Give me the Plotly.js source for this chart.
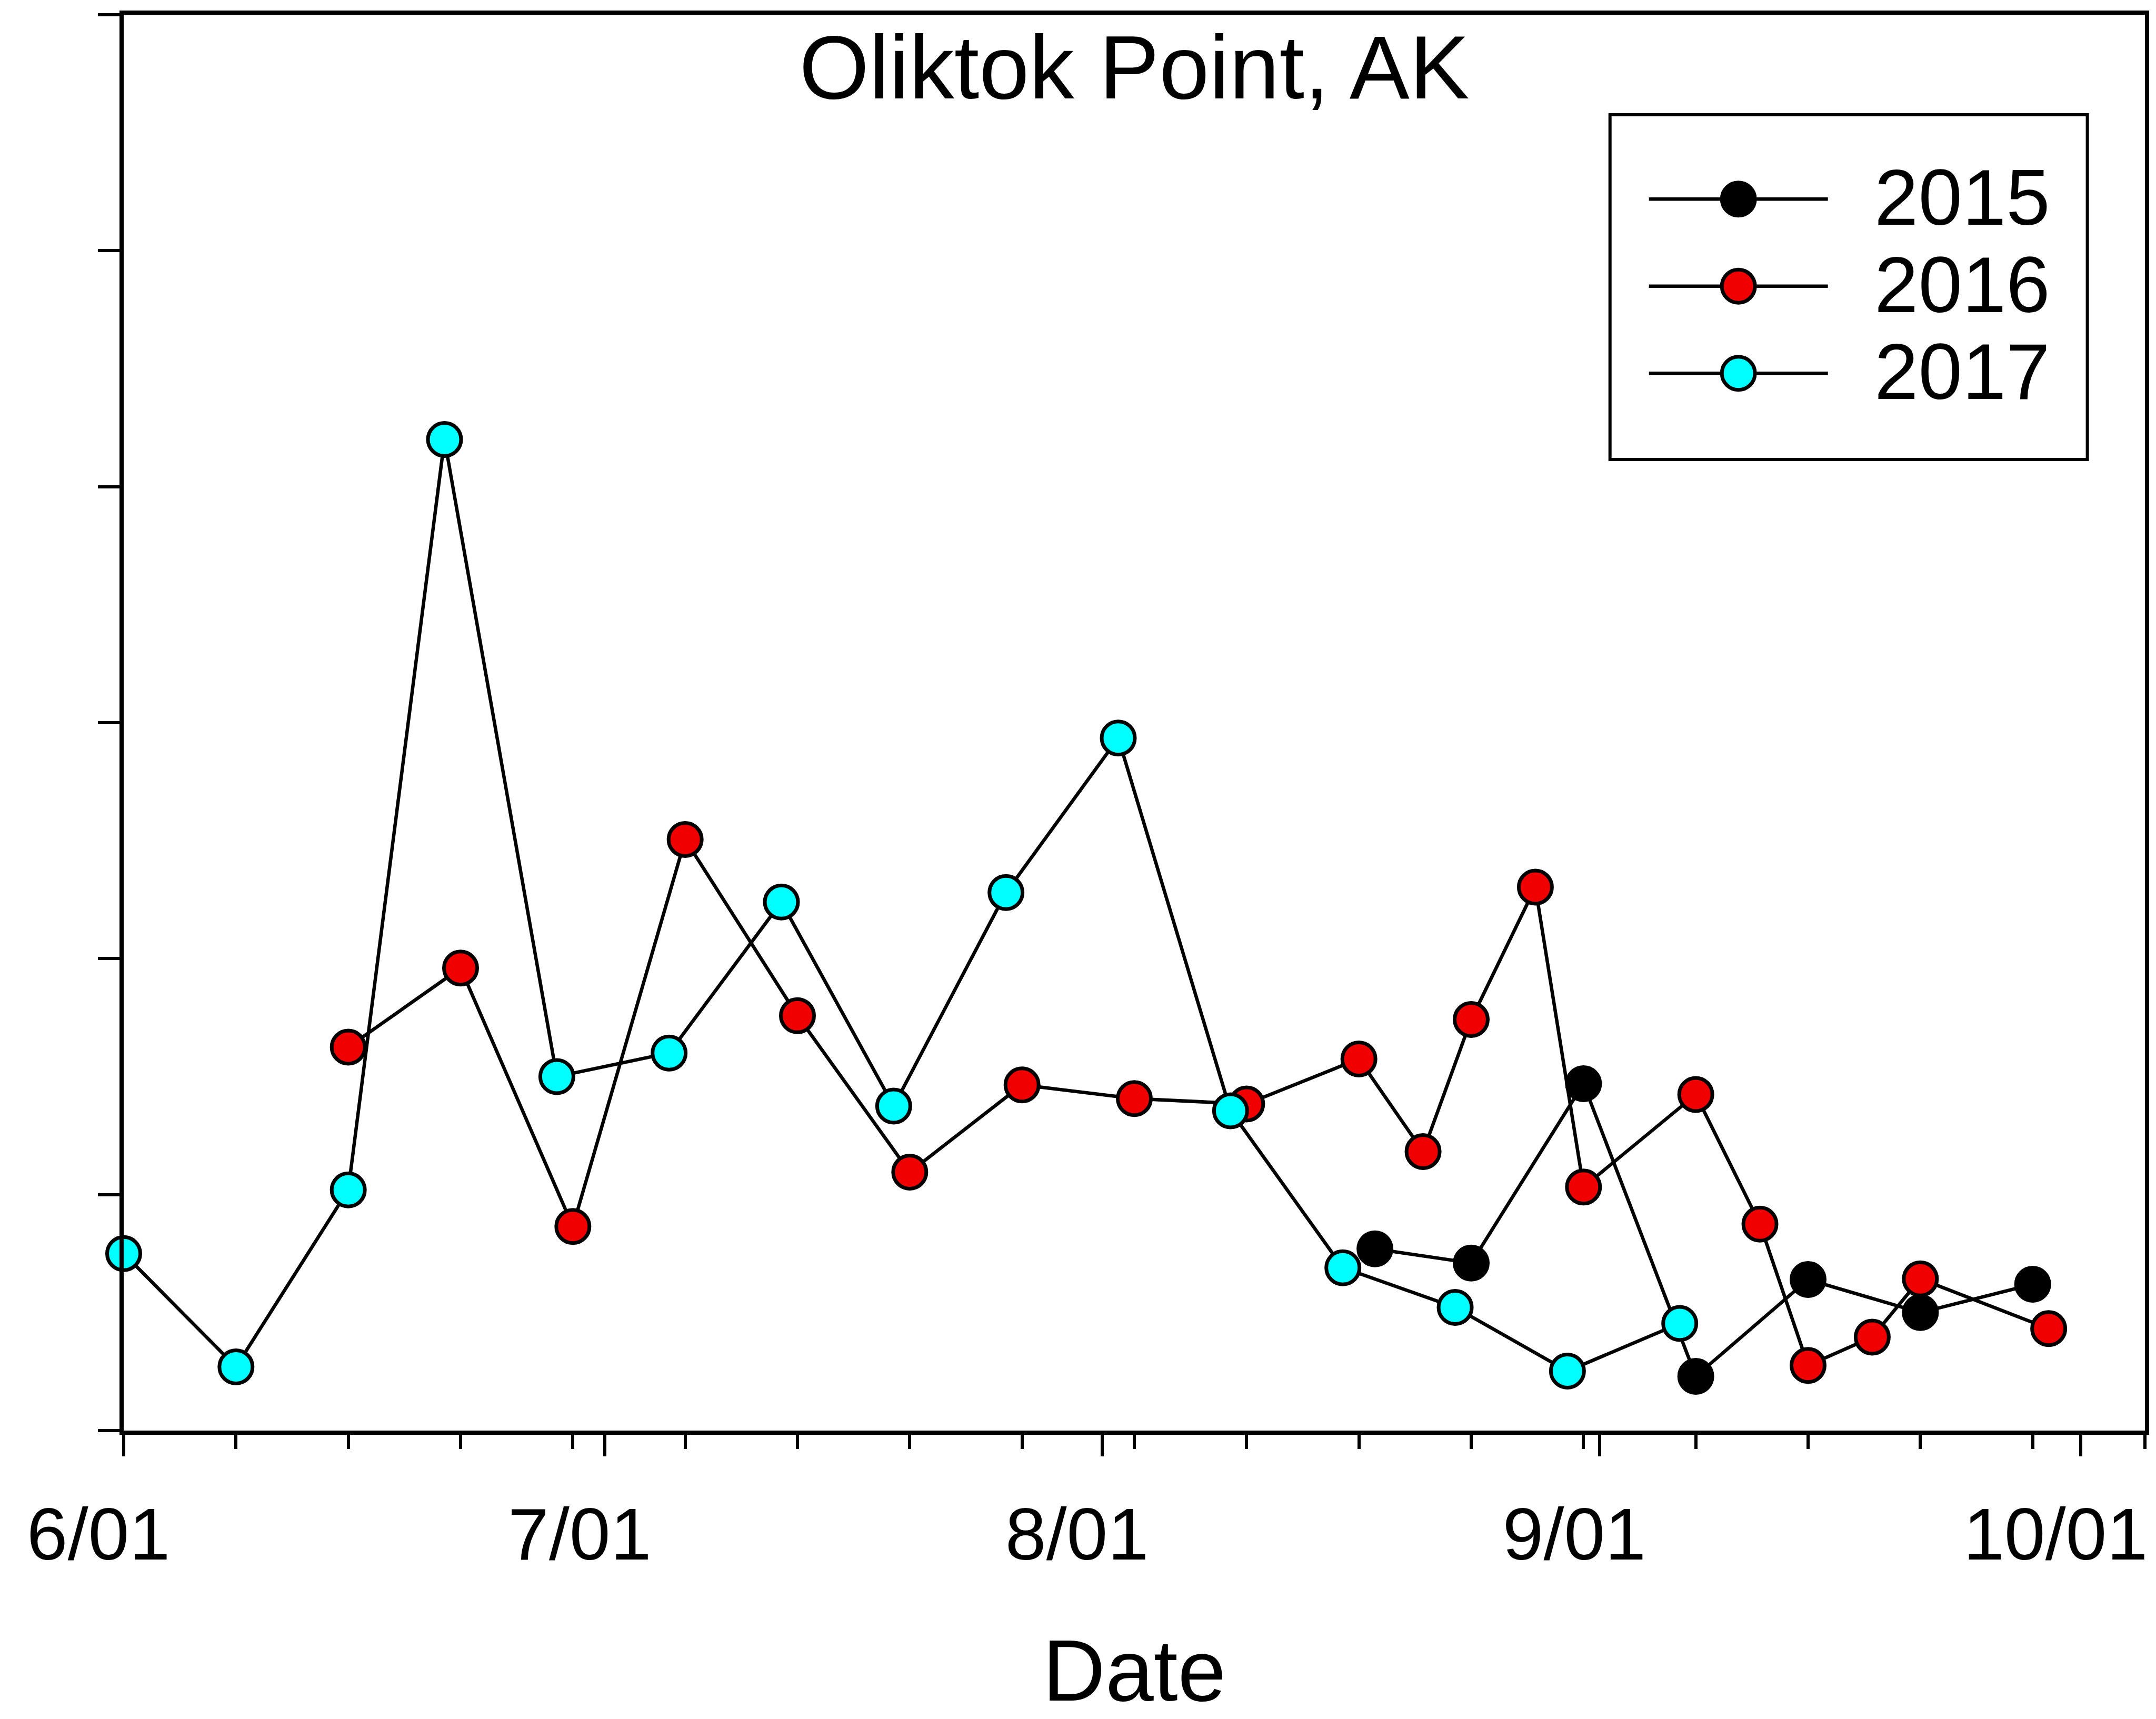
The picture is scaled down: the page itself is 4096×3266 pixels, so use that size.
<!DOCTYPE html>
<html>
<head>
<meta charset="utf-8">
<script src="https://cdn.plot.ly/plotly-3.0.1.min.js"></script>
<style>
  html, body { margin: 0; padding: 0; background: #ffffff; overflow: hidden; }
  #chart { width: 4096px; height: 3266px; }
</style>
</head>
<body>
<div id="chart"></div>
<script>
// ---- data (month-day, value in plot units 0..6) ----
const seriesNames = ['2015', '2016', '2017'];
const seriesColors = ['#000000', '#f00000', '#00ffff'];

const dates2015 = ['08-18','08-24','08-31','09-07','09-14','09-21','09-28'];
const vals2015  = [0.77, 0.71, 1.47, 0.23, 0.64, 0.50, 0.62];

const dates2016 = ['06-15','06-22','06-29','07-06','07-13','07-20','07-27','08-03','08-10','08-17',
                   '08-21','08-24','08-28','08-31','09-07','09-11','09-14','09-18','09-21','09-29'];
const vals2016  = [1.625, 1.96, 0.865, 2.505, 1.758, 1.095, 1.465, 1.407, 1.384, 1.575,
                   1.182, 1.742, 2.303, 1.032, 1.424, 0.875, 0.276, 0.396, 0.643, 0.432];

const dates2017 = ['06-01','06-08','06-15','06-21','06-28','07-05','07-12','07-19','07-26','08-02',
                   '08-09','08-16','08-23','08-30','09-06'];
const vals2017  = [0.75, 0.27, 1.02, 4.20, 1.50, 1.60, 2.24, 1.375, 2.28, 2.935,
                   1.355, 0.69, 0.522, 0.252, 0.454];

const tickDates  = ['06-01','07-01','08-01','09-01','10-01'];
const tickLabels = ['6/01','7/01','8/01','9/01','10/01'];
const axisStart = '06-01';
const axisEnd   = '10-05';

// common plotting year so all seasons share one month/day axis
const YEAR = '2017-';
const toDate = arr => arr.map(d => YEAR + d);

const FONT = 'Liberation Sans, Arial, Helvetica, sans-serif';
const W = 4096, H = 3266;
const mL = 235, mR = 20.6, mT = 27.9, mB = 547.5;
const plotW = W - mL - mR, plotH = H - mT - mB;
const px2x = p => (p - mL) / plotW;
const px2y = p => 1 - (p - mT) / plotH;

const allDates = [dates2015, dates2016, dates2017];
const allVals = [vals2015, vals2016, vals2017];

const traces = seriesNames.map((name, i) => ({
  type: 'scatter',
  mode: 'lines+markers',
  name: '<span style="font-size:150px">\u00a0\u00a0' + name + '</span>',
  x: toDate(allDates[i]),
  y: allVals[i],
  line: { color: '#000000', width: 6.5 },
  marker: { symbol: 'circle', size: 63, color: seriesColors[i], line: { color: '#000000', width: 7 } },
  cliponaxis: false
}));

const layout = {
  width: W, height: H,
  paper_bgcolor: '#ffffff', plot_bgcolor: '#ffffff',
  margin: { l: mL, r: mR, t: mT, b: mB, pad: 0 },
  font: { family: FONT, color: '#000000' },
  title: {
    text: 'Oliktok Point, AK',
    font: { family: FONT, size: 171, color: '#000000' },
    x: 0.5, xref: 'paper', xanchor: 'center',
    y: 1 - 67 / H, yref: 'container', yanchor: 'top'
  },
  showlegend: true,
  legend: {
    x: px2x(3128), y: px2y(290.5), xanchor: 'left', yanchor: 'top',
    bgcolor: 'rgba(0,0,0,0)', borderwidth: 0,
    font: { family: FONT, size: 125, color: '#000000' },
    itemwidth: 340, itemsizing: 'trace'
  },
  xaxis: {
    type: 'date',
    range: [YEAR + axisStart, YEAR + axisEnd],
    tickmode: 'array',
    tickvals: toDate(tickDates),
    ticktext: tickLabels,
    ticks: 'outside', ticklen: 41, tickwidth: 6, tickcolor: '#000000',
    ticklabelstandoff: 28, ticklabelshift: -48,
    tickfont: { family: FONT, size: 140, color: '#000000' },
    minor: { ticks: 'outside', ticklen: 27, tickwidth: 6, tickcolor: '#000000',
             tick0: YEAR + axisStart, dtick: 7 * 86400000, showgrid: false },
    showline: true, linecolor: '#000000', linewidth: 8, mirror: true,
    showgrid: false, zeroline: false,
    title: { text: 'Date', font: { family: FONT, size: 165, color: '#000000' }, standoff: 190 },
    fixedrange: true
  },
  yaxis: {
    range: [0, 6], dtick: 1, tick0: 0,
    ticks: 'outside', ticklen: 41, tickwidth: 6, tickcolor: '#000000',
    showticklabels: false,
    showline: true, linecolor: '#000000', linewidth: 8, mirror: true,
    showgrid: false, zeroline: false,
    fixedrange: true
  },
  shapes: [{
    type: 'rect', xref: 'paper', yref: 'paper', layer: 'below',
    x0: px2x(3059), x1: px2x(3966), y0: px2y(873), y1: px2y(218),
    line: { color: '#000000', width: 6 }, fillcolor: '#ffffff'
  }]
};

Plotly.newPlot('chart', traces, layout, { staticPlot: true, displayModeBar: false, responsive: false })
  .then(gd => {
    // enlarge the legend sample markers to the size used in the plot
    const r = 31.5;
    const circ = 'M' + r + ',0A' + r + ',' + r + ' 0 1,1 0,-' + r + 'A' + r + ',' + r + ' 0 0,1 ' + r + ',0Z';
    gd.querySelectorAll('.legend .legendpoints path.scatterpts').forEach(p => {
      p.setAttribute('d', circ);
      p.style.strokeWidth = '7px';
    });
  });
</script>
</body>
</html>
